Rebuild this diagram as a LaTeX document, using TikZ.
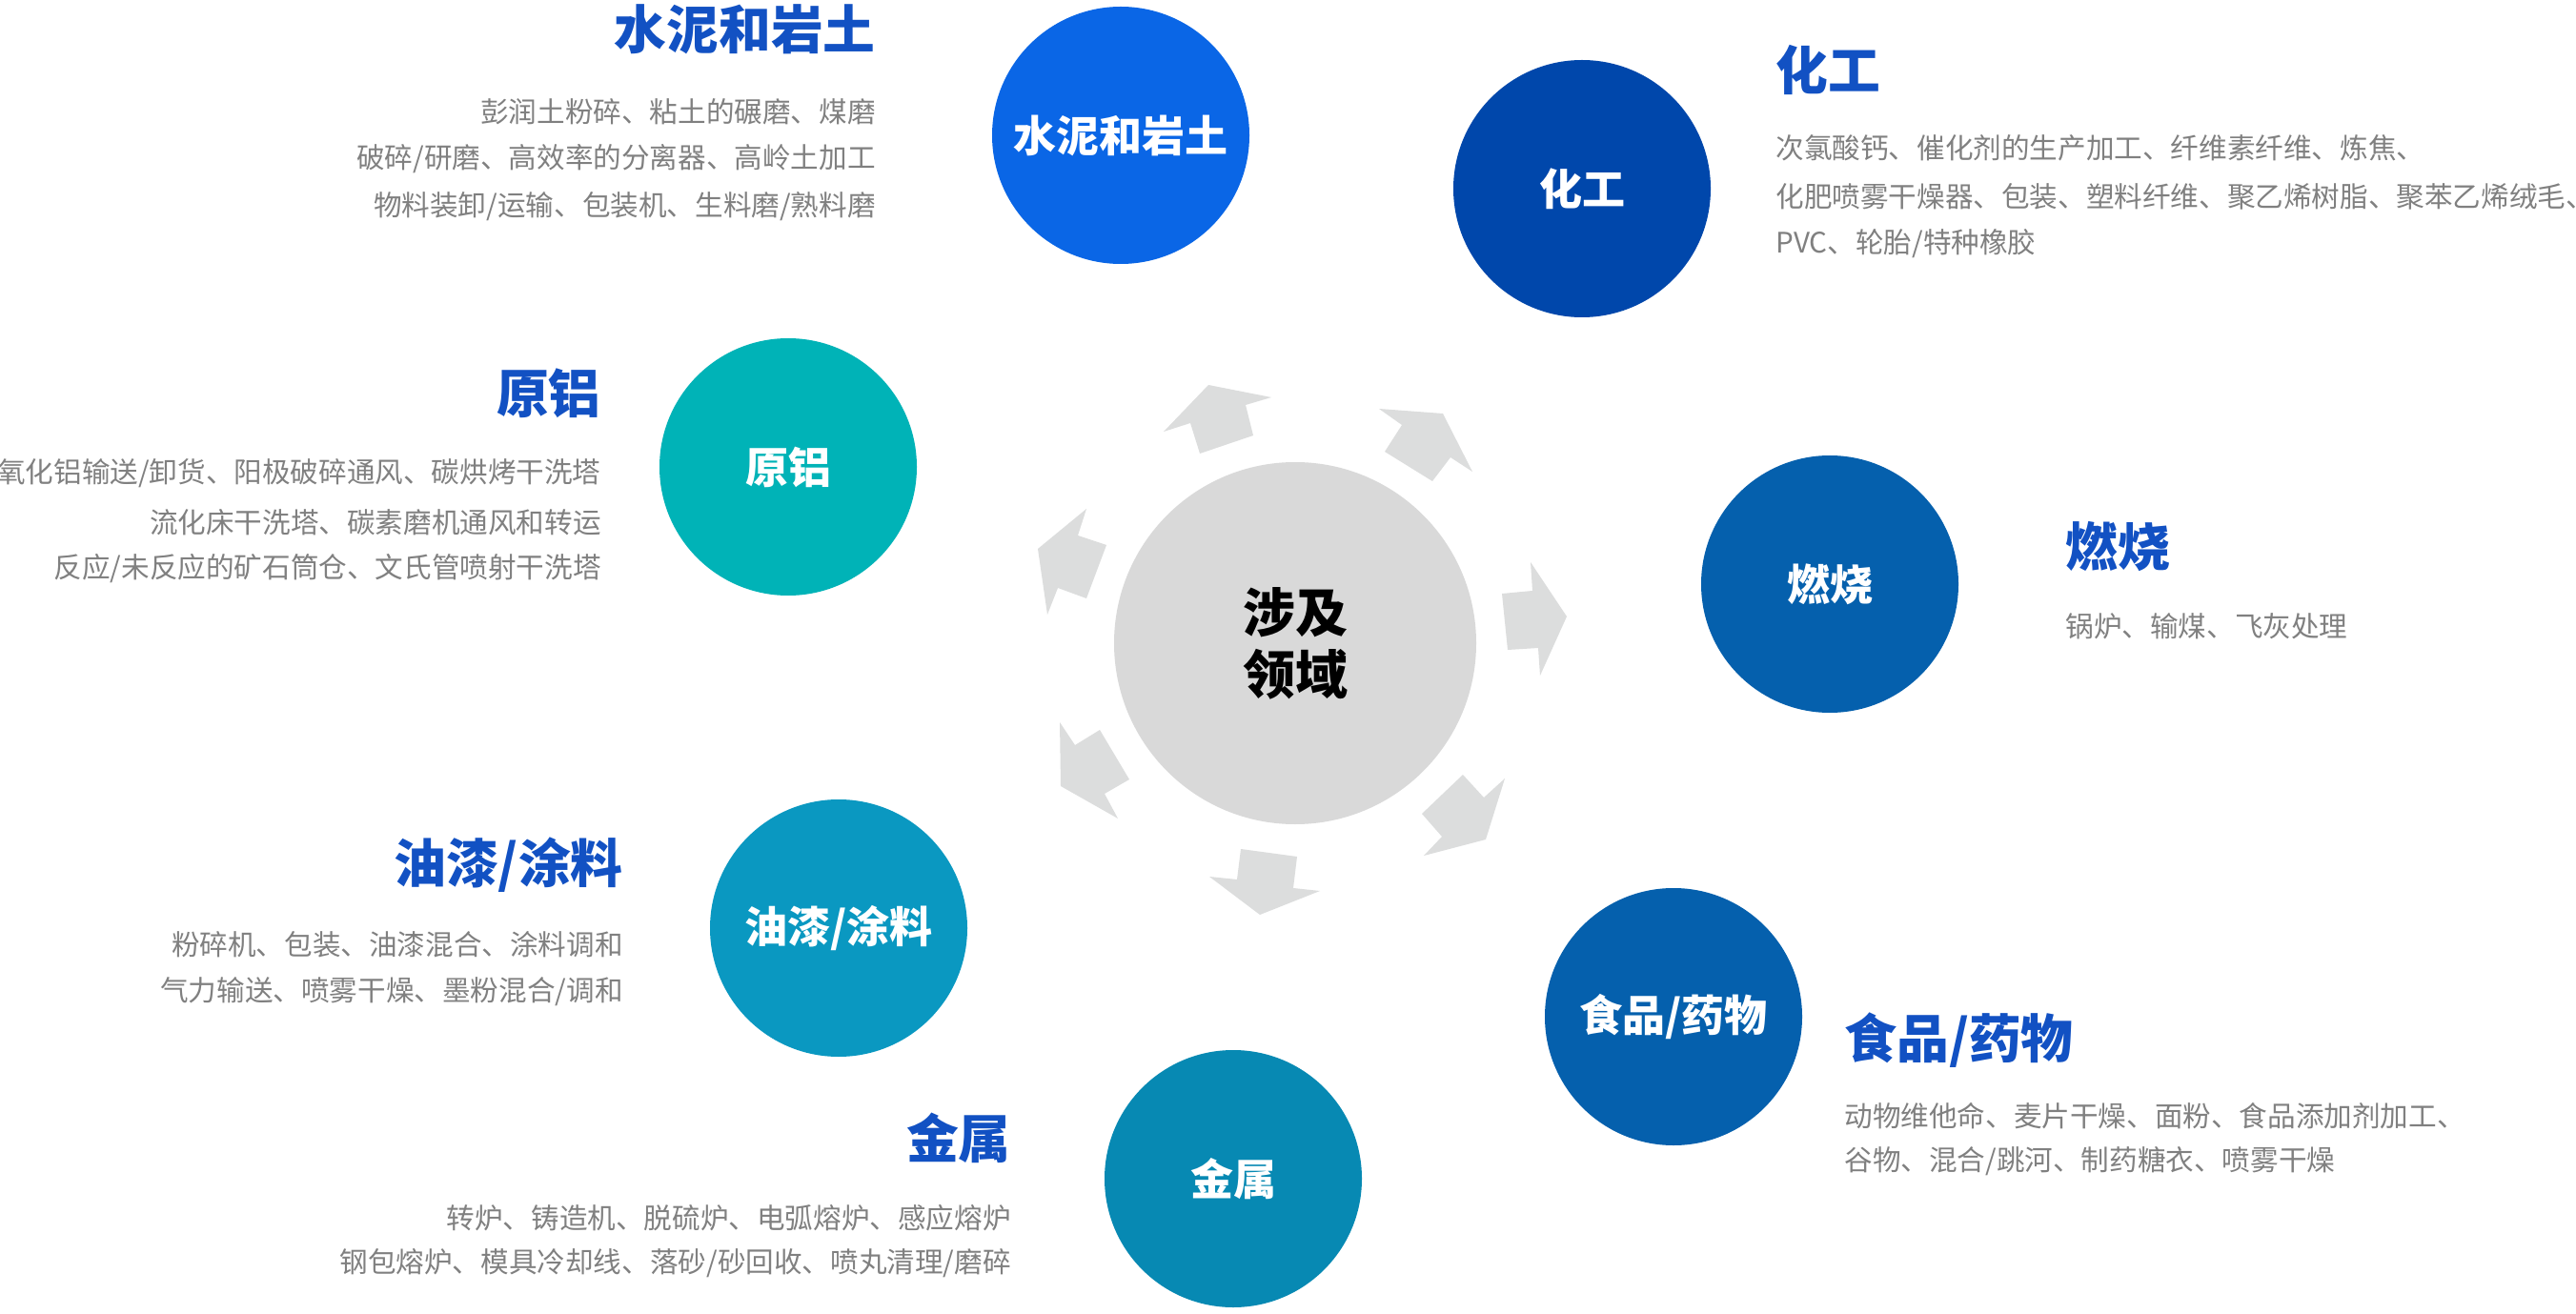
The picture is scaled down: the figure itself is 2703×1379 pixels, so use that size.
\documentclass[tikz,border=0pt]{standalone}
\usepackage{fontspec}
\setmainfont{Noto Sans CJK SC}
\definecolor{cCement}{HTML}{0A66E6}
\definecolor{cChem}{HTML}{0047AB}
\definecolor{cAlum}{HTML}{00B3B7}
\definecolor{cComb}{HTML}{0560AD}
\definecolor{cPaint}{HTML}{0A98C1}
\definecolor{cMetal}{HTML}{0789B3}
\definecolor{cFood}{HTML}{0560AD}
\definecolor{cTitle}{HTML}{1251C3}
\definecolor{cBody}{HTML}{808080}
\definecolor{cCenter}{HTML}{D9D9D9}
\definecolor{cArrow}{HTML}{DCDDDD}
\tikzset{
  bubble/.style={circle, inner sep=0pt, minimum size=135pt, text=white,
    font=\bfseries\fontsize{22.5}{26}\selectfont},
  hub/.style={circle, inner sep=0pt, minimum size=190pt, fill=cCenter, text=black,
    align=center, font=\bfseries\fontsize{27.5}{32.5}\selectfont},
  ttl/.style={inner sep=0pt, text=cTitle, font=\bfseries\fontsize{27.4}{30}\selectfont},
  bodytxt/.style={inner sep=0pt, text=cBody, font=\fontsize{14.8}{18}\selectfont},
  arr/.style={fill=cArrow, draw=none}
}
\begin{document}
\begin{tikzpicture}[x=0.5pt, y=-0.5pt]
\useasboundingbox[fill=white] (0,0) rectangle (2703,1379);

% arrows around the hub
\fill[arr] (1268,404) -- (1334,417) -- (1307,425) -- (1315,457) -- (1259,476) -- (1249,444) -- (1221,453) -- cycle;
\fill[arr] (1447,429) -- (1514,434) -- (1545,495) -- (1522,480) -- (1503,505) -- (1453,474) -- (1471,446) -- cycle;
\fill[arr] (1606,590) -- (1644,647) -- (1616,709) -- (1614,680) -- (1582,682) -- (1576,623) -- (1608,620) -- cycle;
\fill[arr] (1535,813) -- (1557,837) -- (1579,817) -- (1559,881) -- (1494,898) -- (1513,878) -- (1492,854) -- cycle;
\fill[arr] (1302,891) -- (1361,899) -- (1357,932) -- (1385,935) -- (1322,960) -- (1269,920) -- (1298,923) -- cycle;
\fill[arr] (1112,758) -- (1128,782) -- (1154,766) -- (1185,818) -- (1159,833) -- (1173,859) -- (1113,825) -- cycle;
\fill[arr] (1140,534) -- (1131,562) -- (1161,572) -- (1140,628) -- (1110,617) -- (1099,645) -- (1089,576) -- cycle;

% hub
\node[hub] (hub) at (1359,675) {涉及\\领域};

% bubbles
\node[bubble, fill=cCement] (cement) at (1176,142) {水泥和岩土};
\node[bubble, fill=cChem]   (chem)   at (1660,198) {化工};
\node[bubble, fill=cAlum]   (alum)   at (827,490)  {原铝};
\node[bubble, fill=cComb]   (comb)   at (1920,613) {燃烧};
\node[bubble, fill=cPaint]  (paint)  at (880,974)  {油漆/涂料};
\node[bubble, fill=cMetal]  (metal)  at (1294,1237) {金属};
\node[bubble, fill=cFood]   (food)   at (1756,1067) {食品/药物};

% cement texts
\node[ttl, anchor=east] (cementT) at (919,31) {水泥和岩土};
\node[bodytxt, anchor=east] (cementA) at (919,117) {彭润土粉碎、粘土的碾磨、煤磨};
\node[bodytxt, anchor=east] (cementB) at (919,167) {破碎/研磨、高效率的分离器、高岭土加工};
\node[bodytxt, anchor=east] (cementC) at (919,217) {物料装卸/运输、包装机、生料磨/熟料磨};

% aluminium texts
\node[ttl, anchor=east] (alumT) at (631,413) {原铝};
\node[bodytxt, anchor=east] (alumA) at (631,497) {氧化铝输送/卸货、阳极破碎通风、碳烘烤干洗塔};
\node[bodytxt, anchor=east] (alumB) at (631,548) {流化床干洗塔、碳素磨机通风和转运};
\node[bodytxt, anchor=east] (alumC) at (631,597) {反应/未反应的矿石筒仓、文氏管喷射干洗塔};

% chemical texts
\node[ttl, anchor=west] (chemT) at (1863,73) {化工};
\node[bodytxt, anchor=west] (chemA) at (1863,155) {次氯酸钙、催化剂的生产加工、纤维素纤维、炼焦、};
\node[bodytxt, anchor=west] (chemB) at (1863,206) {化肥喷雾干燥器、包装、塑料纤维、聚乙烯树脂、聚苯乙烯绒毛、};
\node[bodytxt, anchor=west] (chemC) at (1863,256) {PVC、轮胎/特种橡胶};

% combustion texts
\node[ttl, anchor=west] (combT) at (2167,574) {燃烧};
\node[bodytxt, anchor=west] (combA) at (2167,657) {锅炉、输煤、飞灰处理};

% paint texts
\node[ttl, anchor=east] (paintT) at (654,908) {油漆/涂料};
\node[bodytxt, anchor=east] (paintA) at (654,991) {粉碎机、包装、油漆混合、涂料调和};
\node[bodytxt, anchor=east] (paintB) at (654,1041) {气力输送、喷雾干燥、墨粉混合/调和};

% metal texts
\node[ttl, anchor=east] (metalT) at (1061,1194) {金属};
\node[bodytxt, anchor=east] (metalA) at (1061,1278) {转炉、铸造机、脱硫炉、电弧熔炉、感应熔炉};
\node[bodytxt, anchor=east] (metalB) at (1061,1326) {钢包熔炉、模具冷却线、落砂/砂回收、喷丸清理/磨碎};

% food texts
\node[ttl, anchor=west] (foodT) at (1935,1092) {食品/药物};
\node[bodytxt, anchor=west] (foodA) at (1935,1171) {动物维他命、麦片干燥、面粉、食品添加剂加工、};
\node[bodytxt, anchor=west] (foodB) at (1935,1219) {谷物、混合/跳河、制药糖衣、喷雾干燥};
\end{tikzpicture}
\end{document}
